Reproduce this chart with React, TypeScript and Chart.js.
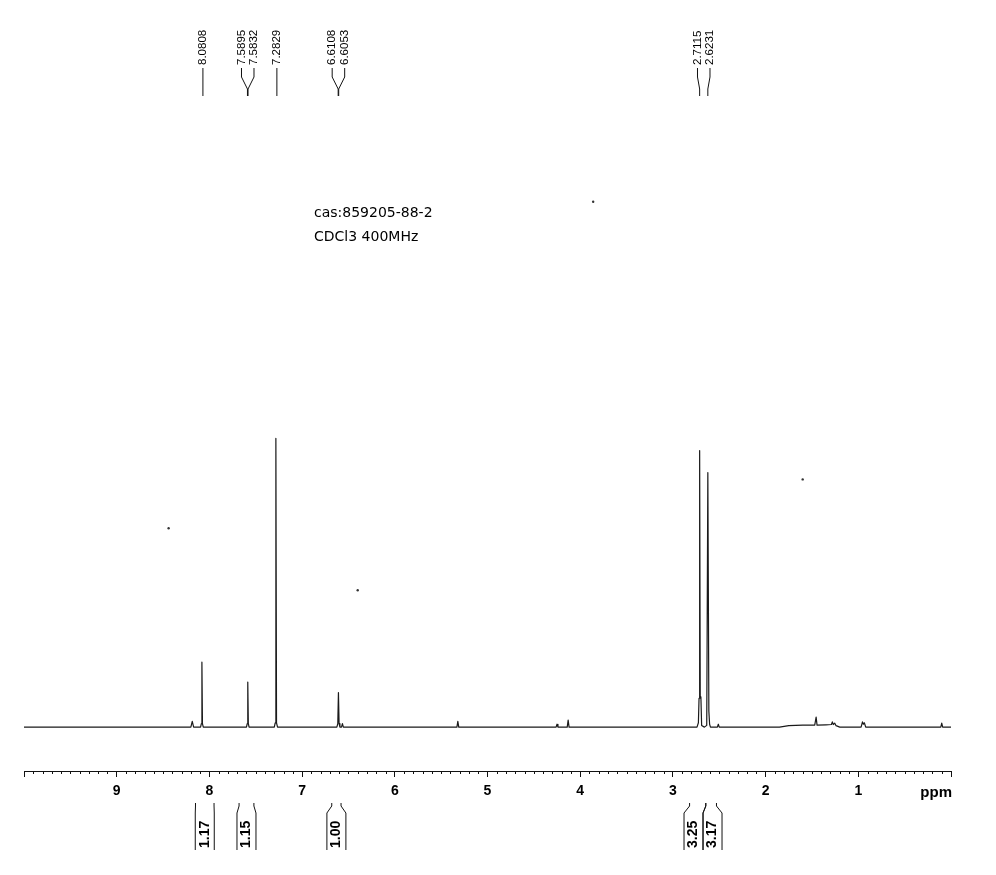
import React, { useEffect, useRef } from 'react';
import { Chart, registerables } from 'chart.js';

Chart.register(...registerables);

// Spectrum trace: chemical shift (ppm) and relative intensity
const traceX = [
  10.0,
  8.2, 8.185, 8.17,
  8.095, 8.087, 8.0808, 8.075, 8.066,
  7.6, 7.592, 7.586, 7.58, 7.572,
  7.3, 7.29, 7.2829, 7.276, 7.265,
  6.625, 6.615, 6.608, 6.601, 6.592, 6.575, 6.565, 6.555,
  5.33, 5.32, 5.31,
  4.26, 4.25, 4.24,
  4.14, 4.13, 4.12,
  2.74, 2.725, 2.718, 2.7115, 2.705, 2.698, 2.69, 2.66, 2.635, 2.6231, 2.612, 2.604, 2.595,
  2.52, 2.51, 2.5,
  1.85, 1.75, 1.6, 1.47, 1.455, 1.445, 1.35, 1.29, 1.28, 1.27, 1.255, 1.24, 1.2,
  0.97, 0.955, 0.945, 0.935, 0.92,
  0.11, 0.1, 0.09,
  0.0,
];
const traceY = [
  0,
  0, 2.0, 0,
  0, 1.2, 22.5, 1.2, 0,
  0, 1.2, 15.6, 1.2, 0,
  0, 1.5, 100, 1.5, 0,
  0, 1.2, 12.0, 1.2, 0, 0, 1.2, 0,
  0, 2.0, 0,
  0, 1.0, 0,
  0, 2.4, 0,
  0, 1.5, 10.0, 95.8, 10.0, 10.5, 0.6, 0, 0.6, 88.2, 5.5, 1.0, 0,
  0, 1.0, 0,
  0, 0.5, 0.7, 0.7, 3.5, 0.7, 0.8, 0.9, 1.8, 0.9, 1.4, 0.5, 0,
  0, 1.8, 1.0, 1.5, 0,
  0, 1.4, 0,
  0,
];

// Peak picking labels
const peakLabels = ['8.0808', '7.5895', '7.5832', '7.2829', '6.6108', '6.6053', '2.7115', '2.6231'];
const peakPpm = [8.0808, 7.5895, 7.5832, 7.2829, 6.6108, 6.6053, 2.7115, 2.6231];

// Integrations
const integFrom = [8.15, 7.68, 6.68, 2.82, 2.645];
const integTo = [7.95, 7.52, 6.58, 2.645, 2.53];
const integValues = ['1.17', '1.15', '1.00', '3.25', '3.17'];

// Axis
const tickValues = [10, 9, 8, 7, 6, 5, 4, 3, 2, 1, 0];
const tickText = ['', '9', '8', '7', '6', '5', '4', '3', '2', '1', ''];
const axisUnit = 'ppm';

// Scan specks on the paper
const speckX = [8.44, 6.4, 3.86, 1.6];
const speckY = [68.9, 47.4, 182, 85.8];

const noteLines = ['cas:859205-88-2', 'CDCl3 400MHz'];

const annotPlugin = {
  id: 'nmrAnnot',
  afterDraw(chart: any) {
    const ctx = chart.ctx as CanvasRenderingContext2D;
    const xs = chart.scales.x;
    const axisY = chart.chartArea.bottom;
    ctx.save();
    ctx.strokeStyle = '#111';
    ctx.fillStyle = '#000';
    ctx.lineWidth = 1;

    // minor ticks every 0.1 ppm
    for (let i = 0; i <= 100; i++) {
      if (i % 10 === 0) continue;
      const px = Math.round(xs.getPixelForValue(i / 10)) + 0.5;
      ctx.beginPath();
      ctx.moveTo(px, axisY);
      ctx.lineTo(px, axisY + 3);
      ctx.stroke();
    }

    // unit label
    ctx.font = 'bold 15px "Liberation Sans", Arial, sans-serif';
    ctx.textAlign = 'right';
    ctx.textBaseline = 'middle';
    ctx.fillText(axisUnit, xs.getPixelForValue(0) + 1, axisY + 22);

    // peak labels
    const peaks = peakPpm
      .map((v, i) => ({ v, label: peakLabels[i], px: xs.getPixelForValue(v) }))
      .sort((a, b) => a.px - b.px);
    const gap = 12.5;
    const clusters: any[][] = [];
    for (const p of peaks) {
      const last = clusters[clusters.length - 1];
      if (last && p.px - last[last.length - 1].px < gap) last.push(p);
      else clusters.push([p]);
    }
    ctx.font = '11.5px "Liberation Sans", Arial, sans-serif';
    for (const c of clusters) {
      const mean = c.reduce((s, p) => s + p.px, 0) / c.length;
      c.forEach((p, i) => {
        const lx = c.length > 1 ? mean + (i - (c.length - 1) / 2) * gap : p.px + 1;
        ctx.beginPath();
        ctx.moveTo(lx, 68);
        if (c.length > 1) {
          ctx.lineTo(lx, 77);
          ctx.lineTo(p.px, 89);
          ctx.lineTo(p.px, 96);
        } else {
          ctx.lineTo(lx, 96);
        }
        ctx.stroke();
        ctx.save();
        ctx.translate(lx, 65);
        ctx.rotate(-Math.PI / 2);
        ctx.textAlign = 'left';
        ctx.textBaseline = 'middle';
        ctx.fillText(p.label, 0, 0);
        ctx.restore();
      });
    }

    // integrals
    const boxW = 19;
    const groups: number[][] = [];
    integFrom.forEach((f, i) => {
      const last = groups[groups.length - 1];
      if (last && Math.abs(integTo[last[last.length - 1]] - f) < 1e-6) last.push(i);
      else groups.push([i]);
    });
    ctx.font = 'bold 14px "Liberation Sans", Arial, sans-serif';
    for (const g of groups) {
      const left = xs.getPixelForValue(integFrom[g[0]]);
      const right = xs.getPixelForValue(integTo[g[g.length - 1]]);
      const center = (left + right) / 2;
      const start = center - (g.length * boxW) / 2;
      g.forEach((idx, k) => {
        const bl = start + k * boxW;
        const br = bl + boxW;
        const tl = xs.getPixelForValue(integFrom[idx]);
        const tr = xs.getPixelForValue(integTo[idx]);
        for (const [t, b] of [[tl, bl], [tr, br]]) {
          ctx.beginPath();
          ctx.moveTo(t, axisY + 32);
          ctx.lineTo(t, axisY + 35);
          ctx.lineTo(b, axisY + 42);
          ctx.lineTo(b, axisY + 79);
          ctx.stroke();
        }
        ctx.save();
        ctx.translate((bl + br) / 2, axisY + 77);
        ctx.rotate(-Math.PI / 2);
        ctx.textAlign = 'left';
        ctx.textBaseline = 'middle';
        ctx.fillText(integValues[idx], 0, 0);
        ctx.restore();
      });
    }

    // sample note
    ctx.font = '14px "DejaVu Sans", sans-serif';
    ctx.textAlign = 'left';
    ctx.textBaseline = 'alphabetic';
    noteLines.forEach((t, i) => ctx.fillText(t, 314, 217 + i * 24));

    ctx.restore();
  },
};

export default function App() {
  const ref = useRef<HTMLCanvasElement>(null);
  useEffect(() => {
    if (!ref.current) return;
    const chart = new Chart(ref.current, {
      type: 'line',
      data: {
        datasets: [
          {
            label: 'spectrum',
            data: traceX.map((x, i) => ({ x, y: traceY[i] })),
            borderColor: '#1a1a1a',
            borderWidth: 1.2,
            borderJoinStyle: 'round',
            pointRadius: 0,
            tension: 0,
            fill: false,
          } as any,
          {
            type: 'scatter',
            label: 'specks',
            data: speckX.map((x, i) => ({ x, y: speckY[i] })),
            pointRadius: 1.2,
            borderWidth: 0,
            backgroundColor: '#333',
            showLine: false,
          } as any,
        ],
      },
      options: {
        responsive: false,
        animation: false,
        devicePixelRatio: 1,
        layout: { padding: { top: 92, left: 24, right: 45, bottom: 0 } },
        plugins: { legend: { display: false }, tooltip: { enabled: false } },
        scales: {
          x: {
            type: 'linear',
            min: 0,
            max: 10,
            reverse: true,
            afterFit: (scale: any) => {
              scale.height = 104;
            },
            border: { display: true, color: '#111', width: 1 },
            grid: { display: true, drawOnChartArea: false, drawTicks: true, tickLength: 6, color: '#111' },
            ticks: {
              stepSize: 1,
              autoSkip: false,
              maxRotation: 0,
              padding: 6,
              color: '#000',
              font: { family: '"Liberation Sans", Arial, sans-serif', size: 14, weight: 'bold' },
              callback: (v: any) => {
                const i = tickValues.indexOf(Number(v));
                return i >= 0 ? tickText[i] : '';
              },
            },
          },
          y: { type: 'linear', display: false, min: -15.2, max: 220 },
        },
      },
      plugins: [annotPlugin],
    });
    return () => chart.destroy();
  }, []);
  return (
    <div style={{ position: 'absolute', left: 0, top: 0, width: 996, height: 875, background: '#fff' }}>
      <canvas ref={ref} width={996} height={875} style={{ display: 'block' }} />
    </div>
  );
}
